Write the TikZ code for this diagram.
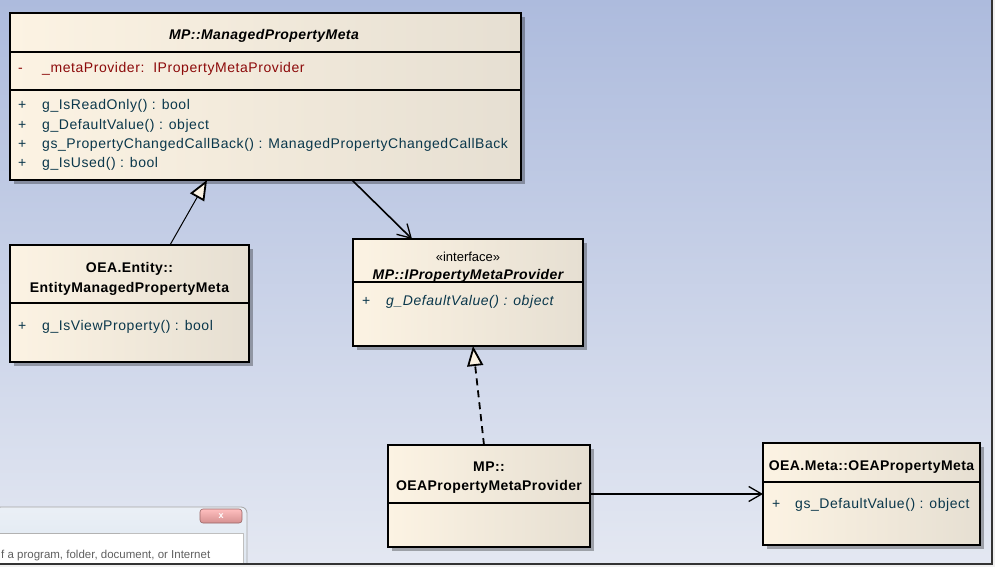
\documentclass[tikz,border=0pt]{standalone}
\usepackage{fontspec}
\setmainfont{Liberation Sans}
\usetikzlibrary{arrows.meta,shadows}
\definecolor{bgtop}{RGB}{173,187,221}
\definecolor{bgbot}{RGB}{228,232,242}
\definecolor{boxL}{RGB}{252,243,227}
\definecolor{boxR}{RGB}{230,223,210}
\definecolor{attrc}{RGB}{140,10,10}
\definecolor{operc}{RGB}{10,55,75}
\definecolor{winbg}{RGB}{220,229,240}
\newcommand{\umlfont}{\fontsize{14}{16}\selectfont\addfontfeature{LetterSpace=4}}
\newcommand{\umltfont}{\fontsize{14}{16}\selectfont\addfontfeature{LetterSpace=3}}
\begin{document}
\begin{tikzpicture}[x=1pt,y=-1pt,
  umlbox/.style={draw=black, line width=1.8pt, left color=boxL, right color=boxR,
    anchor=north west, inner sep=0pt, outer sep=0pt,
    drop shadow={shadow xshift=4pt, shadow yshift=-4pt, fill=black, opacity=0.3}},
  divider/.style={line width=1.8pt},
  ctitle/.style={font=\umltfont\bfseries, inner sep=0pt, text height=10pt, text depth=3pt},
  ititle/.style={font=\umltfont\bfseries\itshape, inner sep=0pt, text height=10pt, text depth=3pt},
  stereo/.style={font=\fontsize{13}{15}\selectfont, inner sep=0pt, text height=10pt, text depth=3pt},
  member/.style={font=\umlfont, anchor=west, inner sep=0pt, text=operc, text height=10pt, text depth=3pt},
  imember/.style={member, font=\umlfont\itshape},
  attr/.style={member, text=attrc},
  gen/.style={line width=1pt, -{Triangle[open, length=20pt, width=16pt, fill=boxL, line width=1.8pt]}},
  real/.style={line width=1.8pt, dash pattern=on 7pt off 5pt, -{Triangle[open, length=20pt, width=16pt, fill=boxL, line width=1.8pt, sep=0pt]}},
  assoc/.style={line width=1.6pt, -{Straight Barb[length=13pt, width=15pt, line width=1.3pt]}}
]
\useasboundingbox (0,0) rectangle (995,567);
% background
\shade[top color=bgtop, bottom color=bgbot] (0,0) rectangle (995,567);
\fill[gray!12] (992,0) rectangle (995,567);
\fill[gray!12] (0,564) rectangle (995,567);

% leftover window fragment
\begin{scope}
\clip (0,0) rectangle (992,564);
\shade[top color=winbg!60!white, bottom color=winbg, draw=gray!70, line width=0.8pt, rounded corners=6pt]
  (-5,507) rectangle (247,575);
\shade[top color=red!25!white, bottom color=red!45!gray!60, draw=gray!80!red, line width=0.6pt, rounded corners=3pt]
  (200,509) rectangle (242,523);
\fill[white, draw=gray!50, line width=0.6pt] (-5,533) rectangle (243,575);
\draw[gray!60, line width=0.8pt] (0,533) -- (120,533);
\end{scope}
\node[font=\bfseries\fontsize{9}{9}\selectfont, text=white, inner sep=0pt] (winx) at (221,516) {x};
\node[font=\fontsize{11.5}{13}\selectfont, text=gray!75!black, anchor=base west, inner sep=0pt] (wint) at (1,558) {f a program, folder, document, or Internet};
\draw[line width=2pt, gray!40!black] (992,0) -- (992,564) -- (0,564);

% ---- ManagedPropertyMeta
\node[umlbox, minimum width=511pt, minimum height=167pt] (mpm) at (10,13) {};
\draw[divider] (10,52) -- (521,52);
\draw[divider] (10,90) -- (521,90);
\node[ititle] (mpmT) at (264,36.5) {MP::ManagedPropertyMeta};
\node[attr] (mpmA0) at (18,69.5) {-};
\node[attr] (mpmA1) at (42,69.5) {\_metaProvider:~~IPropertyMetaProvider};
\node[member] (mpmP1) at (18,106.5) {+};
\node[member] (mpmO1) at (42,106.5) {g\_IsReadOnly() : bool};
\node[member] (mpmP2) at (18,125.5) {+};
\node[member] (mpmO2) at (42,125.5) {g\_DefaultValue() : object};
\node[member] (mpmP3) at (18,144.5) {+};
\node[member] (mpmO3) at (42,144.5) {gs\_PropertyChangedCallBack() : ManagedPropertyChangedCallBack};
\node[member] (mpmP4) at (18,163.5) {+};
\node[member] (mpmO4) at (42,163.5) {g\_IsUsed() : bool};

% ---- EntityManagedPropertyMeta
\node[umlbox, minimum width=239pt, minimum height=117pt] (emp) at (10,245) {};
\draw[divider] (10,303) -- (249,303);
\node[ctitle] (empT1) at (129.5,268.5) {OEA.Entity::};
\node[ctitle] (empT2) at (129.5,288.5) {EntityManagedPropertyMeta};
\node[member] (empP1) at (18,326.5) {+};
\node[member] (empO1) at (42,326.5) {g\_IsViewProperty() : bool};

% ---- IPropertyMetaProvider
\node[umlbox, minimum width=230pt, minimum height=107pt] (ipm) at (353,239) {};
\draw[divider] (353,282) -- (583,282);
\node[stereo] (ipmS) at (468,258) {«interface»};
\node[ititle] (ipmT) at (468,276) {MP::IPropertyMetaProvider};
\node[member] (ipmP1) at (362,301.5) {+};
\node[imember] (ipmO1) at (386,301.5) {g\_DefaultValue() : object};

% ---- OEAPropertyMetaProvider
\node[umlbox, minimum width=202pt, minimum height=102pt] (opmp) at (388,445) {};
\draw[divider] (388,503) -- (590,503);
\node[ctitle] (opmpT1) at (489,467.5) {MP::};
\node[ctitle] (opmpT2) at (489,486.5) {OEAPropertyMetaProvider};

% ---- OEAPropertyMeta
\node[umlbox, minimum width=217pt, minimum height=102pt] (opm) at (763,443) {};
\draw[divider] (763,482) -- (980,482);
\node[ctitle] (opmT) at (871.5,466.5) {OEA.Meta::OEAPropertyMeta};
\node[member] (opmP1) at (772,504.5) {+};
\node[member] (opmO1) at (795,504.5) {gs\_DefaultValue() : object};

% ---- connectors
\draw[gen] ([xshift=160pt]emp.north west) -- ([xshift=197pt]mpm.south west);
\draw[assoc] ([xshift=342pt]mpm.south west) -- ([xshift=59pt]ipm.north west);
\draw[real] ([xshift=96pt]opmp.north west) -- ([xshift=120pt]ipm.south west);
\draw[assoc] (opmp.east |- 0,494) -- (opm.west |- 0,494);
\end{tikzpicture}
\end{document}
